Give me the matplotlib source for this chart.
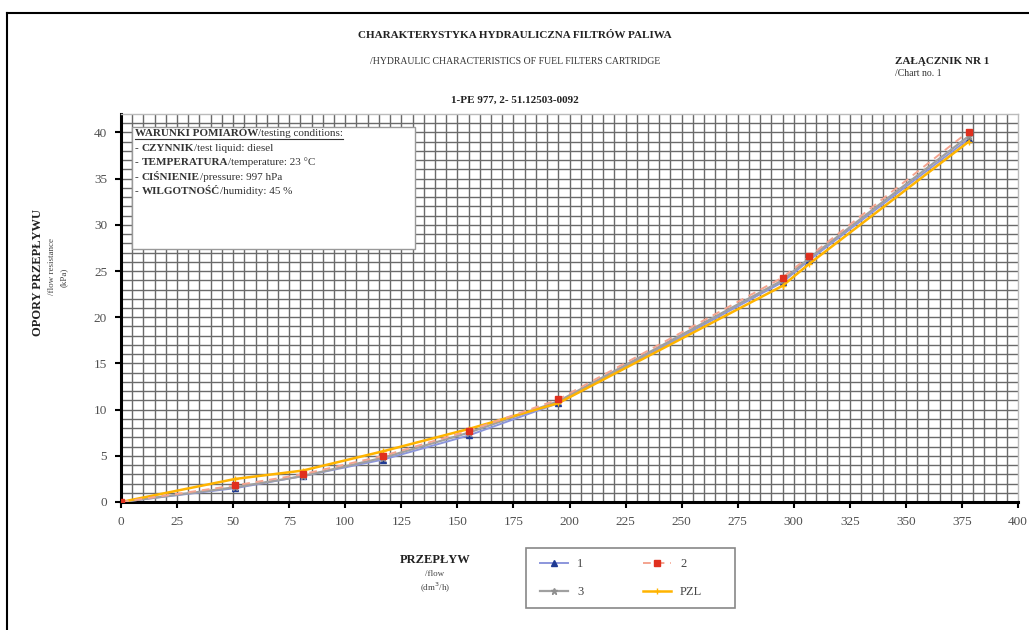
import matplotlib
matplotlib.use('Agg')
import matplotlib.pyplot as plt
import matplotlib.patches as mpatches
from matplotlib.lines import Line2D

plt.rcParams['font.family'] = ['Liberation Serif', 'DejaVu Serif']

# Measured flow points (dm3/h) and flow resistance (kPa) for each cartridge
flow = [0, 51, 81, 117, 155, 195, 295, 307, 378]
res_1 = [0.0, 1.5, 2.8, 4.6, 7.2, 10.7, 23.8, 26.2, 39.3]
res_2 = [0.0, 1.8, 3.0, 5.0, 7.7, 11.1, 24.3, 26.6, 40.1]
res_3 = [0.0, 1.6, 2.8, 4.8, 7.5, 10.9, 24.0, 26.4, 39.6]
res_pzl = [0.0, 2.5, 3.4, 5.5, 7.9, 10.7, 23.4, 25.8, 39.0]

x_ticks = list(range(0, 401, 25))
y_ticks = list(range(0, 41, 5))

conditions = [
    [('- ', 'normal'), ('CZYNNIK', 'bold'), ('/test liquid: diesel', 'normal')],
    [('- ', 'normal'), ('TEMPERATURA', 'bold'), ('/temperature: 23 \u00b0C', 'normal')],
    [('- ', 'normal'), ('CIŚNIENIE', 'bold'), ('/pressure: 997 hPa', 'normal')],
    [('- ', 'normal'), ('WILGOTNOŚĆ', 'bold'), ('/humidity: 45 %', 'normal')],
]

W, H = 1029, 630
fig = plt.figure(figsize=(W / 100, H / 100), dpi=100)
fig.patch.set_facecolor('white')


def fx(px):
    return px / W


def fy(py):
    return 1 - py / H


ax = fig.add_axes([fx(121), fy(502), fx(1018) - fx(121), fy(114) - fy(502)])
ax.set_xlim(0, 400)
ax.set_ylim(0, 42)

# dense engineering grid: every 5 dm3/h and every 1 kPa
for v in range(5, 400, 5):
    ax.axvline(v, color='#6a6a6a', lw=1.0, zorder=0)
for v in range(1, 42, 1):
    ax.axhline(v, color='#6a6a6a', lw=1.0, zorder=0)

ax.set_xticks(x_ticks)
ax.set_yticks(y_ticks)
ax.tick_params(direction='out', length=4, width=1.5, color='black',
               labelsize=9.5, labelcolor='#505050', pad=6)
for s in ['left', 'bottom']:
    ax.spines[s].set_linewidth(2.2)
    ax.spines[s].set_color('black')
for s in ['top', 'right']:
    ax.spines[s].set_linewidth(1.0)
    ax.spines[s].set_color('#bbbbbb')

h1, = ax.plot(flow, res_1, color='#8c96dc', lw=1.4, marker='^', ms=4.5,
              mfc='#1f3a93', mec='#1f3a93', label='1', zorder=3)
h2, = ax.plot(flow, res_2, color='#f4a48f', lw=1.4, ls=(0, (4, 3)), marker='s', ms=4.5,
              mfc='#e0301e', mec='#e0301e', label='2', zorder=4)
h3, = ax.plot(flow, res_3, color='#a0a0a0', lw=1.6, marker='*', ms=5,
              mfc='#909090', mec='#909090', label='3', zorder=3)
h4, = ax.plot(flow, res_pzl, color='#ffb400', lw=1.8, marker='+', ms=5,
              mec='#ffb400', label='PZL', zorder=3)

# conditions box in the upper left corner of the plot
box = mpatches.Rectangle((fx(132), fy(249)), fx(415) - fx(132), fy(127) - fy(249),
                         transform=fig.transFigure, facecolor='white',
                         edgecolor='#999999', lw=1.0, zorder=5)
fig.add_artist(box)

renderer = fig.canvas.get_renderer()


def draw_pieces(x0, y0, pieces, size=8, underline=False):
    x = x0
    for txt, weight in pieces:
        t = fig.text(fx(x), fy(y0), txt, fontsize=size, fontweight=weight,
                     color='#333333', va='center', ha='left', zorder=6)
        bb = t.get_window_extent(renderer=renderer)
        x += bb.width
    if underline:
        fig.add_artist(Line2D([fx(x0), fx(x)], [fy(y0 + 6), fy(y0 + 6)],
                              color='#333333', lw=0.8, zorder=6))


draw_pieces(135, 133, [('WARUNKI POMIARÓW', 'bold'), ('/testing conditions:', 'normal')],
            underline=True)
for i, line in enumerate(conditions):
    draw_pieces(135, 148 + i * 14.5, line)

# titles
fig.text(fx(515), fy(35), 'CHARAKTERYSTYKA HYDRAULICZNA FILTRÓW PALIWA',
         ha='center', va='center', fontsize=8, fontweight='bold', color='#222222')
fig.text(fx(515), fy(61), '/HYDRAULIC CHARACTERISTICS OF FUEL FILTERS CARTRIDGE',
         ha='center', va='center', fontsize=7, color='#333333')
fig.text(fx(515), fy(100), '1-PE 977, 2- 51.12503-0092',
         ha='center', va='center', fontsize=8, fontweight='bold', color='#222222')
fig.text(fx(895), fy(62), 'ZAŁĄCZNIK NR 1', ha='left', va='center',
         fontsize=8, fontweight='bold', color='#222222')
fig.text(fx(895), fy(74), '/Chart no. 1', ha='left', va='center',
         fontsize=7, color='#333333')

# axis titles
fig.text(fx(38), fy(272), 'OPORY PRZEPŁYWU', rotation=90, ha='center', va='center',
         fontsize=9, fontweight='bold', color='#222222')
fig.text(fx(52), fy(266), '/flow resistance', rotation=90, ha='center', va='center',
         fontsize=6.5, color='#444444')
fig.text(fx(64), fy(277), '(kPa)', rotation=90, ha='center', va='center',
         fontsize=6.5, color='#444444')
fig.text(fx(435), fy(560), 'PRZEPŁYW', ha='center', va='center',
         fontsize=9, fontweight='bold', color='#222222')
fig.text(fx(435), fy(574), '/flow', ha='center', va='center',
         fontsize=6.5, color='#444444')
fig.text(fx(435), fy(588), '(dm$^3$/h)', ha='center', va='center',
         fontsize=6.5, color='#444444')

# legend: frame drawn separately, entries 1 / 2 on the first row, 3 / PZL on the second
leg_frame = mpatches.Rectangle((fx(526), fy(608)), fx(735) - fx(526), fy(548) - fy(608),
                               transform=fig.transFigure, facecolor='white',
                               edgecolor='#888888', lw=1.2, zorder=4)
fig.add_artist(leg_frame)
leg = fig.legend([h1, h3, h2, h4], ['1', '3', '2', 'PZL'], ncol=2, loc='upper left',
                 bbox_to_anchor=(fx(530), fy(548)), fontsize=9, frameon=False,
                 handlelength=2.25, handletextpad=0.7, labelspacing=1.3,
                 borderpad=0.3, columnspacing=4.8)
leg.set_zorder(6)
for t in leg.get_texts():
    t.set_color('#444444')

# outer page frame
fig.add_artist(Line2D([fx(7), fx(7)], [0, fy(13)], color='black', lw=1.5))
fig.add_artist(Line2D([fx(7), 1], [fy(13), fy(13)], color='black', lw=1.5))

fig.savefig('out.png', dpi=100, facecolor='white')
